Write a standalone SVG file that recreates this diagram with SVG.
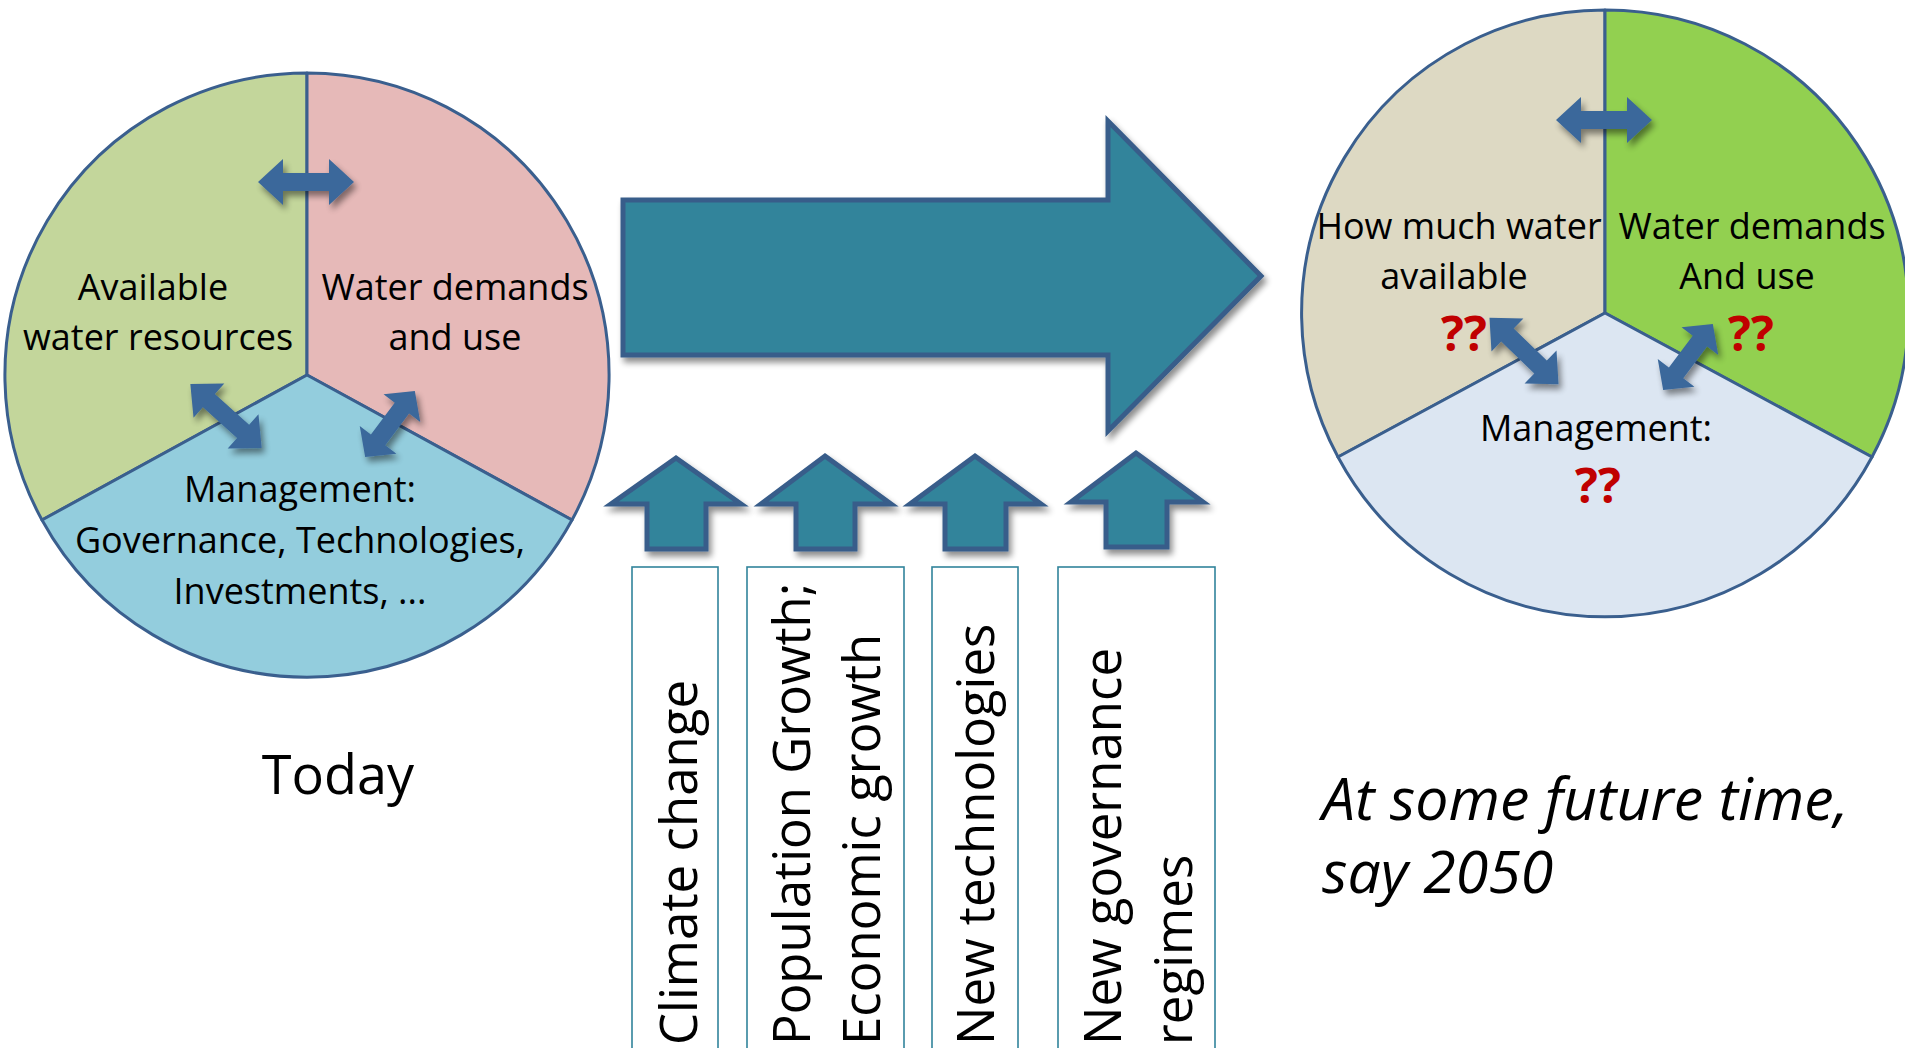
<svg xmlns="http://www.w3.org/2000/svg" width="1905" height="1048" viewBox="0 0 1905 1048">
  <defs>
    <style>
      text { font-family: "Open Sans", "Noto Sans", sans-serif; fill: #000; }
      .pie-label { font-size: 36px; text-anchor: middle; }
      .qq { font-size: 48px; font-weight: bold; fill: #C00000; text-anchor: middle; }
      .edge { stroke: #3A5F8E; stroke-width: 3; stroke-linejoin: round; }
      .dbl { fill: #3B689B; }
      .teal { fill: #31849B; stroke: #385D8A; stroke-width: 5; stroke-linejoin: miter; }
      .driver-box { fill: #fff; stroke: #31849B; stroke-width: 1.6; }
      .driver { font-size: 51px; }
      .caption-italic { font-size: 59px; font-style: italic; }
    </style>
    <filter id="shadow" x="-15%" y="-15%" width="140%" height="150%">
      <feGaussianBlur in="SourceAlpha" stdDeviation="3"/>
      <feOffset dx="3" dy="5" result="o"/>
      <feComponentTransfer><feFuncA type="linear" slope="0.45"/></feComponentTransfer>
      <feMerge><feMergeNode/><feMergeNode in="SourceGraphic"/></feMerge>
    </filter>
    <!-- double-headed arrow centred on the origin, pointing along x -->
    <path id="dbl-arrow" d="M-48,0 L-23,-23 L-23,-9 L23,-9 L23,-23 L48,0 L23,23 L23,9 L-23,9 L-23,23 Z"/>
  </defs>

  <!-- Today: current water system -->
  <g id="pie-today">
    <path class="edge" fill="#C3D69B" d="M307,375 L42,520 A302,302 0 0 1 307,73 Z"/>
    <path class="edge" fill="#E6B9B8" d="M307,375 L307,73 A302,302 0 0 1 572,520 Z"/>
    <path class="edge" fill="#93CDDD" d="M307,375 L572,520 A302,302 0 0 1 42,520 Z"/>
    <text class="pie-label" x="153" y="300">Available</text>
    <text class="pie-label" x="158" y="350">water resources</text>
    <text class="pie-label" x="455" y="300">Water demands</text>
    <text class="pie-label" x="455" y="350">and use</text>
    <text class="pie-label" x="300" y="502">Management:</text>
    <text class="pie-label" x="300" y="553">Governance, Technologies,</text>
    <text class="pie-label" x="300" y="604">Investments, ...</text>
  </g>

  <!-- Future: uncertain water system -->
  <g id="pie-future">
    <path class="edge" fill="#DDD9C3" d="M1605,313 L1338,457 A303,303 0 0 1 1605,10 Z"/>
    <path class="edge" fill="#92D050" d="M1605,313 L1605,10 A303,303 0 0 1 1872,457 Z"/>
    <path class="edge" fill="#DCE6F2" d="M1605,313 L1872,457 A303,303 0 0 1 1338,457 Z"/>
    <text class="pie-label" x="1459" y="239">How much water</text>
    <text class="pie-label" x="1454" y="289">available</text>
    <text class="pie-label" x="1752" y="239">Water demands</text>
    <text class="pie-label" x="1747" y="289">And use</text>
    <text class="qq" x="1464" y="351">??</text>
    <text class="qq" x="1751" y="351">??</text>
    <text class="pie-label" x="1596" y="441">Management:</text>
    <text class="qq" x="1598" y="503">??</text>
  </g>

  <!-- interactions between the pie sectors -->
  <g id="connectors" filter="url(#shadow)">
    <use href="#dbl-arrow" class="dbl" transform="translate(306,182)"/>
    <use href="#dbl-arrow" class="dbl" transform="translate(226,416) rotate(42)"/>
    <use href="#dbl-arrow" class="dbl" transform="translate(390,424) rotate(-53) scale(0.86,1)"/>
    <use href="#dbl-arrow" class="dbl" transform="translate(1604,120)"/>
    <use href="#dbl-arrow" class="dbl" transform="translate(1524,351) rotate(44)"/>
    <use href="#dbl-arrow" class="dbl" transform="translate(1688,357) rotate(-53) scale(0.86,1)"/>
  </g>

  <!-- transition from today to the future -->
  <g id="transition-arrow" filter="url(#shadow)">
    <polygon class="teal" points="623,200 1108,200 1108,121 1261,276 1108,431 1108,355 623,355"/>
  </g>

  <!-- drivers of change -->
  <g id="driver-climate">
    <polygon class="teal" filter="url(#shadow)" points="676,458 741,504 706,504 706,549 647,549 647,504 611,504"/>
    <rect class="driver-box" x="632" y="567" width="86" height="482"/>
    <text class="driver" transform="translate(697,1045) rotate(-90)">Climate change</text>
  </g>
  <g id="driver-growth">
    <polygon class="teal" filter="url(#shadow)" points="825,456 891,504 855,504 855,549 796,549 796,504 761,504"/>
    <rect class="driver-box" x="747" y="567" width="157" height="482"/>
    <text class="driver" transform="translate(810,1045) rotate(-90)">Population Growth;</text>
    <text class="driver" transform="translate(880,1045) rotate(-90)">Economic growth</text>
  </g>
  <g id="driver-technology">
    <polygon class="teal" filter="url(#shadow)" points="975,456 1041,504 1006,504 1006,549 945,549 945,504 910,504"/>
    <rect class="driver-box" x="932" y="567" width="86" height="482"/>
    <text class="driver" transform="translate(994,1045) rotate(-90)">New technologies</text>
  </g>
  <g id="driver-governance">
    <polygon class="teal" filter="url(#shadow)" points="1136,453 1203,502 1167,502 1167,547 1106,547 1106,502 1071,502"/>
    <rect class="driver-box" x="1058" y="567" width="157" height="482"/>
    <text class="driver" transform="translate(1121,1045) rotate(-90)">New governance</text>
    <text class="driver" transform="translate(1192,1045) rotate(-90)">regimes</text>
  </g>

  <!-- captions -->
  <g id="caption-today">
    <text x="338" y="794" font-size="54" text-anchor="middle">Today</text>
  </g>
  <g id="caption-future">
    <text class="caption-italic" x="1322" y="820">At some future time,</text>
    <text class="caption-italic" x="1322" y="893">say 2050</text>
  </g>
</svg>
